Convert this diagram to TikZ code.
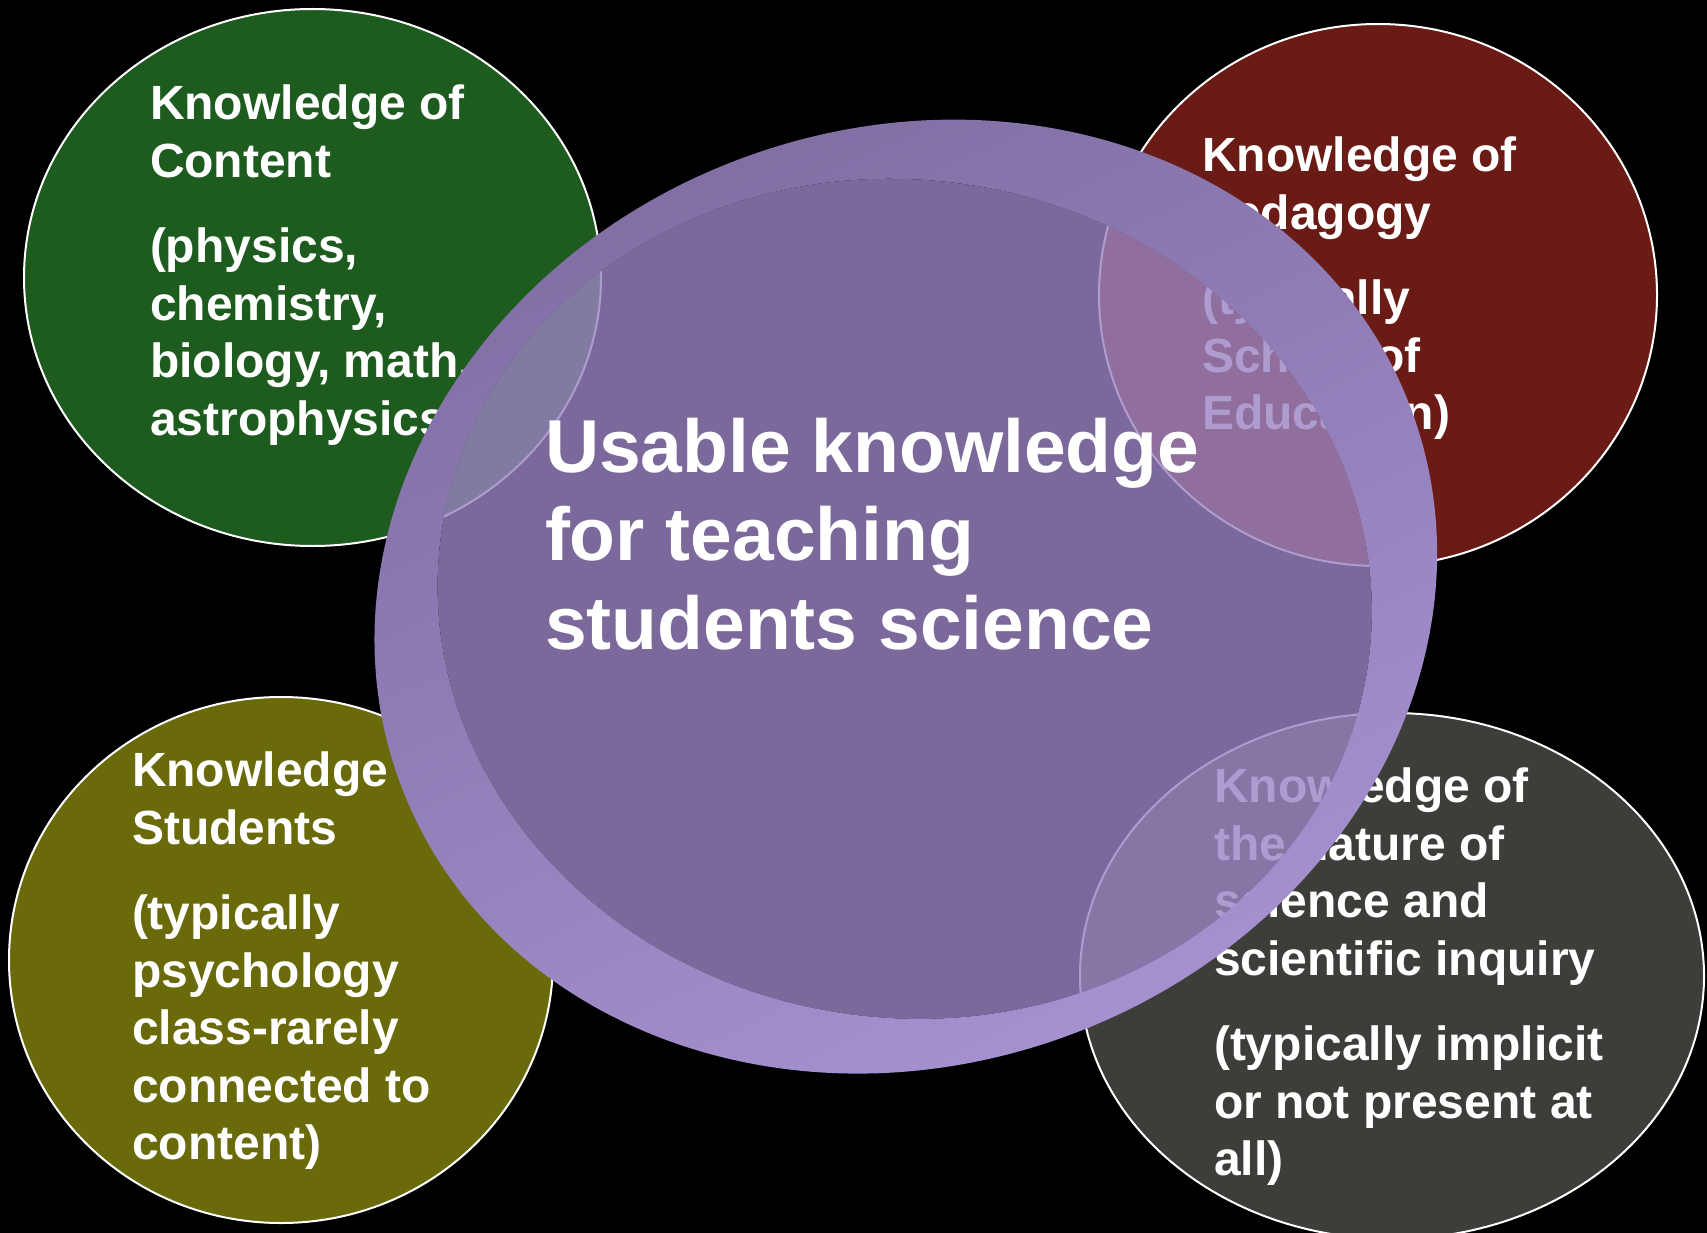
\documentclass[tikz,border=0pt]{standalone}
\usepackage{fontspec}
\setmainfont{Liberation Sans}
\usetikzlibrary{shapes.geometric}

% satellite fills
\definecolor{contentgreen}{RGB}{30,91,31}
\definecolor{pedagogyred}{RGB}{106,27,21}
\definecolor{studentolive}{RGB}{106,106,10}
\definecolor{naturegray}{RGB}{61,61,57}
% central hub
\definecolor{hubfill}{RGB}{154,132,194}
\definecolor{ringdark}{RGB}{126,108,160}
\definecolor{ringlight}{RGB}{168,148,212}

\begin{document}
\begin{tikzpicture}[x=1pt,y=-1pt,
  sphere/.style={ellipse, draw=white, line width=2pt, inner sep=0pt, outer sep=0pt},
  satlabel/.style={anchor=north west, inner sep=0pt, outer sep=0pt, align=left,
    text=white, font=\fontsize{48}{57.5}\selectfont\bfseries},
  hublabel/.style={anchor=north west, inner sep=0pt, outer sep=0pt, align=left,
    text=white, font=\fontsize{75}{88.5}\selectfont\bfseries}]

% black slide background
\path[use as bounding box, fill=black] (0,0) rectangle (1707,1233);

% the four knowledge domains
\node[sphere, fill=contentgreen, minimum width=577pt, minimum height=537pt] (content) at (312.5,277.5) {};
\node[sphere, fill=pedagogyred, minimum width=558pt, minimum height=542pt] (pedagogy) at (1378,295) {};
\node[sphere, fill=studentolive, minimum width=544pt, minimum height=526pt] (students) at (281,960) {};
\node[sphere, fill=naturegray, minimum width=624pt, minimum height=526pt] (nature) at (1392,976) {};

\node[satlabel] (contenttext) at (150,85)
  {Knowledge of\\Content\\[28pt](physics,\\chemistry,\\biology, math,\\astrophysics)};
\node[satlabel] (pedagogytext) at (1202,137)
  {Knowledge of\\Pedagogy\\[28pt](typically\\School of\\Education)};
\node[satlabel] (studentstext) at (132,752)
  {Knowledge of\\Students\\[28pt](typically\\psychology\\class-rarely\\connected to\\content)};
\node[satlabel] (naturetext) at (1214,768)
  {Knowledge of\\the nature of\\science and\\scientific inquiry\\[28pt](typically implicit\\or not present at\\all)};

% centres of the tilted rim and of its core
\coordinate (rim) at (905.8,596.6);
\coordinate (hub) at (904.7,598.8);

% translucent core of the hub
\fill[hubfill, fill opacity=0.8]
  (hub) ellipse [x radius=468pt, y radius=419pt, rotate=-8];
% opaque rim around the core
\shade[even odd rule, top color=ringdark, bottom color=ringlight, shading angle=25]
  (rim) ellipse [x radius=539pt, y radius=468pt, rotate=20]
  (hub) ellipse [x radius=468pt, y radius=419pt, rotate=-8];

\node[hublabel] (hubtext) at (545,418)
  {Usable knowledge\\for teaching\\students science};

\end{tikzpicture}
\end{document}
